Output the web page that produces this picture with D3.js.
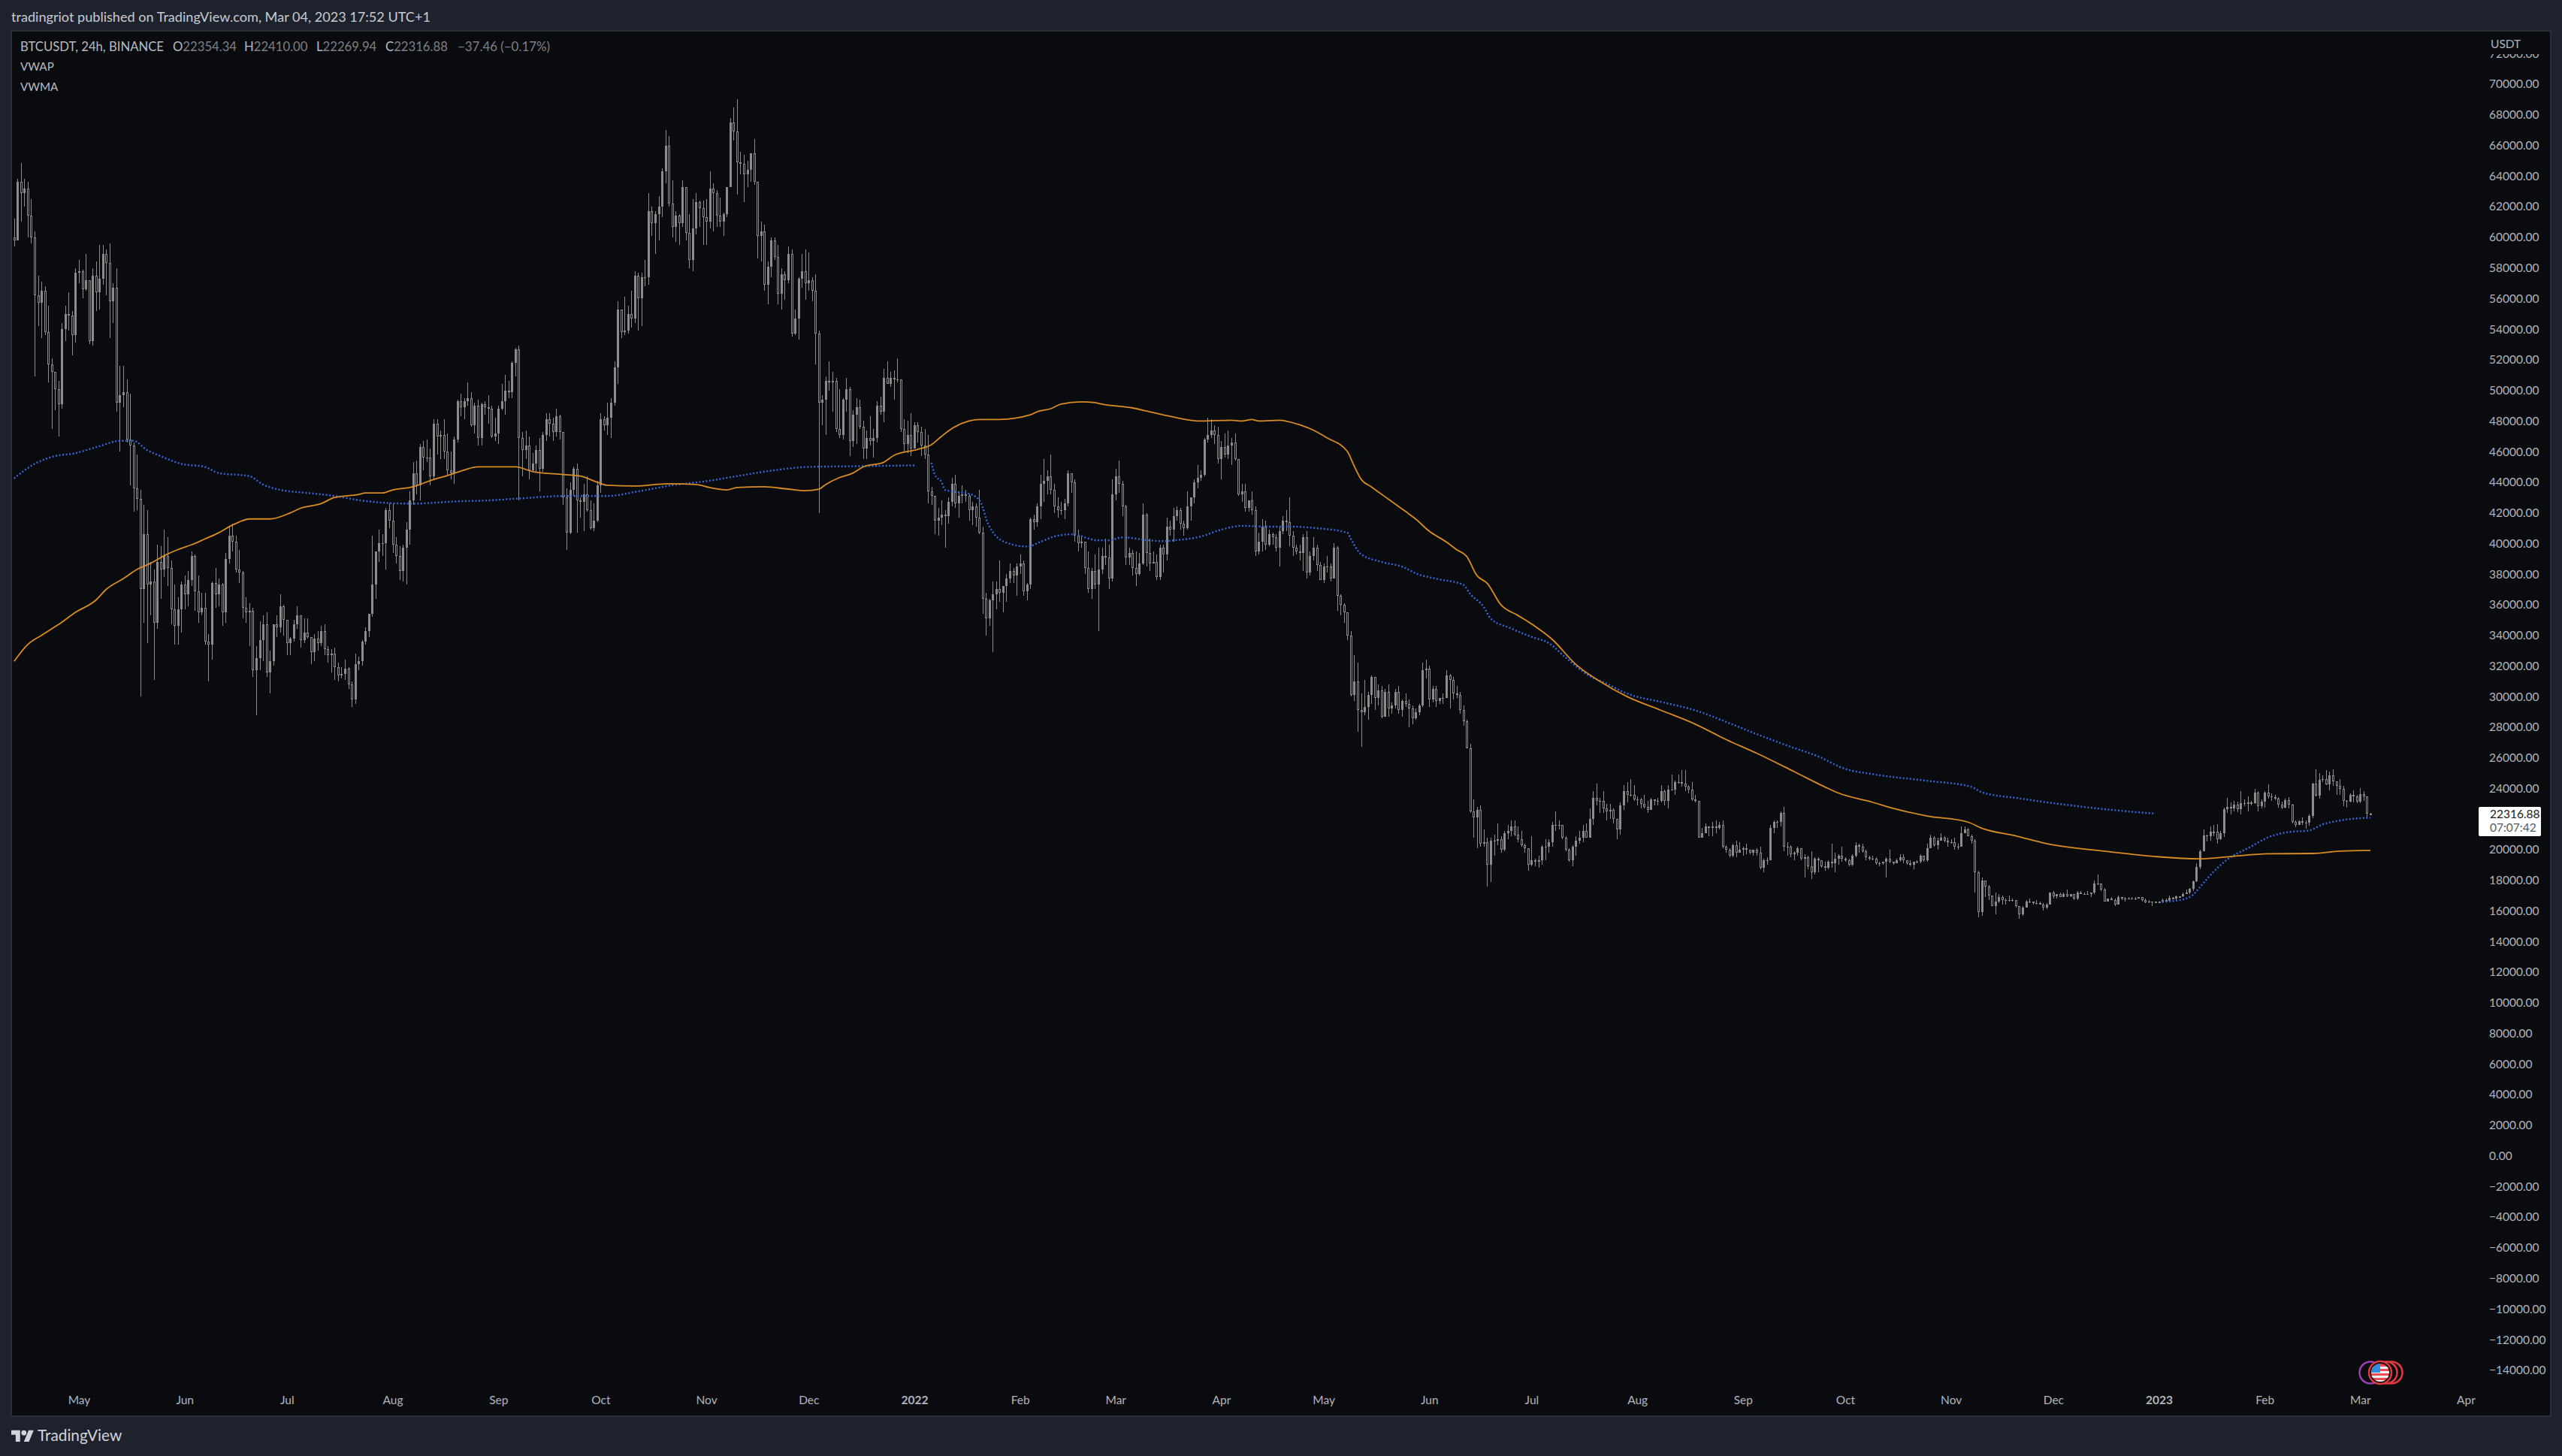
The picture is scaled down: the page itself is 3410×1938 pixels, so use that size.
<!DOCTYPE html>
<html><head><meta charset="utf-8">
<script src="https://cdn.jsdelivr.net/npm/d3@7"></script>
<style>html,body{margin:0;padding:0;background:#1e222d}svg{display:block}text{font-family:Lato,"Noto Sans",sans-serif}</style>
</head><body><svg id="c" width="3410" height="1938"></svg>
<script>
const startDate = "2021-04-12";
const firstOpen = 60.0;
// daily candles in thousands of USDT, grouped by month, Apr 12 2021 .. Mar 4 2023
const closes = [
59.8,63.6,62.9,63.2,61.4,60.0,56.2,55.7,56.5,53.8,51.7,51.2,50.1,49.1,54.0,55.0,54.9,53.6,57.7,
57.8,56.6,57.2,53.2,57.5,56.4,57.3,58.9,58.3,55.8,56.7,49.2,49.7,49.9,46.8,46.4,43.6,42.9,37.0,40.6,37.3,37.5,34.8,38.8,38.3,39.2,38.4,35.7,34.6,35.7,37.3,
36.7,37.6,39.2,36.9,35.5,35.8,33.6,33.4,37.4,36.7,37.3,35.5,39.0,40.5,40.1,38.3,38.1,35.8,35.5,35.6,31.7,32.5,33.7,34.7,31.6,32.3,34.7,34.5,35.9,35.0,
33.5,33.8,34.7,35.3,33.7,34.2,33.9,32.9,33.8,33.5,34.3,33.1,32.7,32.8,31.9,31.4,31.5,31.8,30.8,29.8,32.1,32.3,33.6,34.3,35.4,37.3,39.5,40.0,40.0,42.2,41.5,
39.9,39.2,38.2,39.7,40.9,42.8,44.6,43.8,46.3,45.6,45.6,44.4,47.8,47.0,47.1,46.0,44.8,44.6,46.8,49.3,48.9,49.3,49.5,47.7,49.0,46.9,49.1,48.9,48.8,47.0,47.2,
48.8,49.3,50.0,49.9,51.8,52.7,46.9,46.1,46.4,44.8,45.2,46.1,44.9,47.1,48.1,47.8,47.3,48.3,47.3,43.0,40.7,43.5,44.9,42.8,42.7,43.2,42.2,41.0,41.5,43.8,
48.1,47.7,48.2,49.2,51.5,55.3,53.8,53.9,55.0,54.7,57.5,56.0,57.4,57.4,61.7,60.9,61.5,62.0,64.3,66.0,62.2,60.7,61.4,60.9,63.3,60.3,58.5,60.6,62.3,61.9,61.3,
61.0,63.2,62.9,61.4,61.0,61.5,63.3,67.5,66.9,64.9,64.8,64.1,64.4,65.5,63.6,60.1,60.4,56.9,58.1,59.8,58.7,56.3,57.6,57.2,58.9,53.7,54.7,57.3,57.8,57.0,
57.2,56.5,53.7,49.2,49.4,50.6,50.5,50.6,47.5,47.1,49.4,50.1,46.7,48.4,48.9,47.6,46.2,46.9,46.7,46.9,49.0,48.6,50.8,50.4,50.8,50.7,50.7,47.5,46.5,47.1,46.2,
47.7,47.3,46.4,45.8,43.4,43.1,41.5,41.7,41.9,41.8,42.7,43.9,42.6,43.1,43.2,43.1,42.2,42.4,41.7,40.7,36.4,35.1,36.3,36.7,37.0,36.8,37.2,37.7,38.2,37.9,38.5,
38.7,36.9,37.3,41.6,41.4,42.4,43.9,44.1,44.4,43.5,42.4,42.2,42.2,42.6,44.6,44.0,40.5,40.0,40.1,38.4,37.0,38.2,37.3,38.3,39.2,39.1,37.7,43.2,
44.4,43.9,42.4,39.1,39.4,38.4,38.0,38.7,41.9,39.4,38.7,38.8,37.8,39.7,39.3,41.1,40.9,41.8,42.2,41.3,41.0,42.4,43.0,44.0,44.3,44.5,46.8,47.1,47.4,47.1,45.5,
46.3,45.8,46.4,46.6,45.5,43.2,43.4,42.3,42.8,42.2,39.5,40.1,41.1,39.9,40.6,40.4,39.7,40.8,41.5,41.4,40.5,39.7,39.5,39.4,40.4,38.1,39.2,39.7,38.6,37.6,
38.5,38.5,37.7,39.7,36.6,36.0,35.5,34.0,30.1,31.0,29.1,29.0,29.3,30.1,31.3,29.9,30.4,28.7,30.3,29.2,29.4,30.3,29.1,29.7,29.5,29.2,28.6,29.0,29.4,31.7,31.8,
29.8,30.5,29.7,29.9,29.9,31.4,31.1,30.2,30.1,29.1,28.4,26.6,22.5,22.1,22.6,20.4,20.5,19.0,20.6,20.6,20.7,20.0,21.1,21.2,21.5,21.0,20.7,20.3,20.1,19.0,
19.3,19.2,19.3,20.2,20.2,20.5,21.6,21.6,21.6,20.8,20.0,19.3,20.2,20.6,20.8,21.2,20.8,22.0,23.4,23.2,23.2,22.7,22.5,22.6,22.0,21.3,22.9,23.8,23.6,23.6,23.3,
23.3,23.0,22.8,22.6,23.3,23.2,23.2,23.8,23.2,23.9,23.9,24.4,24.4,24.3,24.1,23.9,23.3,23.2,20.8,21.1,21.5,21.4,21.5,21.4,21.6,20.2,20.0,19.6,20.3,19.8,20.0,
20.1,20.0,19.8,20.0,19.8,18.8,19.3,19.3,21.4,21.8,21.8,22.4,20.2,20.2,19.7,19.8,20.1,19.4,19.5,18.9,18.5,19.4,19.3,18.9,18.8,19.2,19.1,19.4,19.6,19.4,
19.3,19.0,19.6,20.3,20.2,19.9,19.5,19.4,19.4,19.1,19.1,19.2,19.4,19.2,19.1,19.3,19.5,19.3,19.1,19.0,19.2,19.2,19.6,19.3,20.1,20.8,20.3,20.6,20.8,20.6,20.5,
20.5,20.2,20.2,21.1,21.3,20.9,20.6,18.5,15.9,18.0,17.6,17.0,16.3,16.6,16.9,16.7,16.7,16.7,16.7,16.3,15.8,16.2,16.6,16.6,16.5,16.5,16.4,16.2,16.4,17.2,
16.97,17.1,16.9,17.1,16.97,17.1,16.8,17.2,17.1,17.1,17.1,17.2,17.8,17.8,17.4,16.6,16.8,16.7,16.4,16.9,16.8,16.8,16.8,16.8,16.8,16.9,16.7,16.55,16.6,16.6,16.5,
16.6,16.7,16.67,16.85,16.83,16.95,16.94,17.1,17.2,17.44,17.94,18.85,19.9,20.95,20.87,21.17,21.16,20.68,21.07,22.67,22.78,22.7,22.92,22.63,23.06,23.0,23.08,23.03,23.74,22.83,23.12,
23.73,23.49,23.43,23.33,22.93,22.76,23.25,22.96,21.8,21.63,21.86,21.78,21.77,22.2,24.33,23.52,24.57,24.63,24.28,24.84,24.45,24.19,23.95,23.19,23.16,23.56,23.49,23.14,
23.63,23.47,22.35,22.32];
const highs = [
61.2,63.8,64.85,63.8,63.6,62.5,60.4,57.5,57.1,56.8,55.5,52.1,51.2,50.6,54.4,55.5,56.4,55.2,58.0,
58.5,57.9,58.9,57.2,58.0,58.4,59.5,59.5,59.2,59.6,57.0,58.0,51.6,51.6,50.7,49.8,46.6,45.8,43.5,42.5,42.2,38.8,38.3,39.9,39.8,40.9,40.4,38.9,37.3,36.5,37.5,
37.9,38.2,39.5,39.3,37.9,36.8,36.8,34.1,37.5,38.4,37.7,37.4,39.4,41.1,41.3,40.5,39.6,38.2,36.5,36.1,35.8,33.3,34.9,35.3,35.5,33.0,34.7,35.3,36.7,36.0,
35.0,33.9,35.0,35.9,35.2,35.1,35.1,33.9,34.1,34.3,34.6,34.7,33.3,33.1,33.2,32.2,31.9,32.4,31.9,31.0,32.8,32.6,33.7,34.5,35.4,40.5,39.5,40.9,40.6,42.3,42.6,
42.6,40.4,39.8,39.9,41.4,43.4,45.3,45.4,46.5,46.7,46.8,46.2,48.1,48.1,47.4,48.1,47.2,46.0,47.0,49.4,49.8,49.5,50.5,49.9,49.2,49.4,49.2,49.3,49.7,49.0,48.2,
49.0,50.4,51.0,50.6,51.9,52.8,52.9,47.3,47.4,47.0,45.9,46.4,46.9,47.3,48.5,48.5,48.2,48.8,48.4,47.3,43.6,44.0,45.0,45.2,43.0,43.9,44.4,42.8,42.6,44.1,
48.5,48.3,49.2,49.5,51.9,55.8,55.3,56.1,55.5,56.5,57.8,57.7,57.7,58.5,62.9,62.0,61.7,62.7,64.5,67.0,66.6,63.7,61.7,61.5,63.7,63.3,61.5,62.5,62.9,62.4,62.4,
62.5,64.3,63.5,63.1,62.6,61.6,63.3,67.8,68.5,69.0,65.6,65.4,65.0,65.5,66.4,63.4,61.0,60.8,58.4,60.0,60.0,59.5,58.0,57.8,59.4,59.2,55.3,57.4,58.9,59.2,
59.0,57.4,57.6,53.9,49.7,50.9,51.9,51.2,50.8,50.1,49.5,50.8,50.2,48.7,49.5,49.4,48.0,47.4,48.3,47.5,49.3,49.6,51.4,51.9,51.2,51.3,52.1,50.7,48.1,48.0,48.5,
47.9,47.9,47.6,47.5,47.1,43.7,43.1,42.3,42.8,42.2,43.0,44.3,44.5,43.4,43.8,43.5,43.2,42.7,42.6,43.5,41.1,36.8,36.4,37.5,37.5,38.9,37.2,38.0,38.7,38.4,38.7,
39.3,38.9,37.4,41.7,41.9,42.6,44.5,45.5,44.8,45.8,43.9,43.0,42.7,42.9,44.8,44.6,44.2,40.9,40.5,40.1,39.5,38.4,39.3,39.7,39.7,40.3,39.9,44.2,
44.9,45.4,44.1,42.5,39.7,39.6,39.5,39.4,42.6,42.0,40.3,39.5,39.3,39.9,39.9,41.7,41.5,42.3,42.4,42.3,41.5,43.4,43.0,44.2,45.1,44.8,46.9,48.2,48.1,47.7,47.6,
46.7,47.2,47.4,46.9,47.2,45.5,43.9,43.9,42.8,43.4,42.4,40.7,41.6,41.5,40.9,40.7,40.6,41.1,41.8,42.2,43.0,40.8,39.9,39.9,40.6,40.8,39.5,40.4,39.9,38.8,
38.7,39.2,38.7,40.0,39.8,36.7,36.1,35.5,34.3,32.7,32.2,30.2,31.1,30.3,31.4,31.3,30.8,30.7,30.5,30.8,29.6,30.5,30.7,29.8,30.2,29.8,29.4,29.2,29.5,32.2,32.4,
32.0,30.7,30.7,29.9,30.2,31.7,31.5,31.3,30.7,30.3,29.4,28.5,26.9,23.3,22.8,22.9,21.3,20.8,20.8,21.0,21.7,20.9,21.2,21.6,21.9,21.9,21.5,21.2,20.4,20.1,
20.9,19.4,19.6,20.3,20.7,20.7,21.8,22.5,21.9,21.6,20.9,20.1,20.3,20.9,21.2,21.6,21.7,22.7,23.8,24.3,23.4,23.8,23.0,23.0,22.7,21.4,23.1,24.2,24.4,24.6,24.2,
23.5,23.4,23.6,23.2,23.4,23.3,23.4,24.2,23.9,24.2,24.9,24.5,24.9,25.2,25.2,24.2,24.4,23.6,23.2,21.4,21.7,21.5,21.8,21.9,21.8,21.9,20.3,20.1,20.4,20.6,20.5,
20.2,20.4,20.0,20.0,20.1,20.2,19.4,19.5,21.6,21.9,21.9,22.5,22.8,20.5,20.3,19.9,20.2,20.1,19.7,19.6,19.9,19.5,19.5,19.3,19.2,19.3,20.4,19.8,19.7,20.2,
19.5,19.4,19.7,20.5,20.4,20.4,20.0,19.6,19.6,19.5,19.2,19.2,19.5,20.0,19.2,19.4,19.7,19.7,19.3,19.3,19.2,19.3,19.7,19.6,20.4,21.0,20.9,20.8,21.1,20.9,20.8,
20.7,20.8,20.4,21.5,21.5,21.4,21.0,20.7,18.6,18.2,18.0,17.7,17.0,17.2,17.1,17.0,16.8,17.0,16.8,16.7,16.3,16.3,16.7,16.8,16.6,16.7,16.6,16.5,16.5,17.2,
17.3,17.1,17.2,17.2,17.4,17.1,17.1,17.3,17.3,17.2,17.3,17.2,18.0,18.4,17.8,17.5,16.8,16.9,16.8,17.0,16.9,16.9,16.9,16.9,16.9,16.9,16.9,16.8,16.7,16.6,16.6,
16.6,16.8,16.8,17.0,16.9,17.0,16.96,17.2,17.4,17.5,18.0,19.1,20.0,21.3,21.0,21.5,21.6,21.65,21.2,22.75,23.37,23.08,23.17,23.15,23.8,23.3,23.5,23.2,23.95,23.8,23.3,
23.8,24.25,23.7,23.6,23.43,23.15,23.35,23.45,23.0,21.9,21.9,22.1,21.9,22.3,24.38,25.25,25.02,24.85,25.2,25.12,25.25,24.47,24.6,24.15,23.22,23.69,23.88,23.6,
24.0,23.8,23.5,22.41];
const lows = [
59.4,59.8,61.0,62.0,60.0,59.6,50.9,54.2,53.4,53.6,50.5,47.5,48.7,47.0,48.8,53.2,53.9,52.3,53.1,
57.0,56.0,56.5,53.0,52.9,55.2,55.3,56.9,56.2,53.4,54.4,48.6,46.0,48.9,46.6,43.8,42.1,42.2,30.0,34.8,33.5,35.3,31.1,34.4,36.4,37.8,37.2,34.7,33.4,33.4,34.2,
35.7,35.9,37.2,35.6,34.8,35.3,33.4,31.0,32.4,35.8,35.9,34.6,34.8,38.7,39.5,38.1,37.4,35.1,34.8,33.3,31.3,28.8,31.7,32.3,31.3,30.2,32.0,33.9,34.2,34.0,
32.7,32.7,33.6,34.4,33.2,33.5,33.8,32.1,32.3,33.0,33.3,32.7,32.2,31.6,31.1,31.0,31.2,31.1,30.5,29.3,29.5,31.7,32.0,33.4,33.9,35.2,36.4,38.8,39.2,38.3,41.0,
39.4,38.7,37.6,37.5,37.3,39.9,42.5,43.2,42.8,44.8,45.3,43.8,44.2,45.8,45.5,45.5,44.4,44.2,43.9,46.6,48.3,48.1,49.0,47.6,47.2,46.4,46.4,48.4,47.8,46.9,46.7,
46.5,48.7,48.4,49.5,49.5,50.9,42.8,44.4,45.5,44.2,44.7,44.7,43.4,44.7,46.7,47.0,46.7,47.0,46.8,42.5,39.6,40.6,43.1,40.7,41.7,40.8,42.1,40.9,40.8,41.4,
43.3,47.4,47.1,46.9,49.0,50.4,53.4,53.6,53.7,54.1,54.4,53.9,54.2,56.8,56.9,60.1,58.9,59.8,61.3,63.5,62.0,60.0,59.7,59.5,60.7,59.8,58.0,57.8,60.2,60.7,59.5,
59.5,60.6,60.4,60.7,60.7,60.1,61.3,63.3,66.3,62.8,64.1,62.3,63.3,63.6,63.4,58.6,58.4,56.5,55.6,57.4,58.5,55.6,55.3,55.9,57.0,53.5,53.6,53.3,56.7,55.9,
56.5,55.8,51.7,42.0,47.7,47.1,50.0,48.6,47.3,46.9,46.8,48.6,45.7,46.3,46.5,47.5,45.5,45.5,46.4,45.6,46.6,48.4,47.9,50.4,50.2,49.4,50.5,47.3,46.0,45.9,45.7,
46.2,46.6,45.7,45.5,42.6,42.5,40.6,40.5,41.2,39.7,41.3,42.4,42.3,41.7,42.6,42.7,41.5,41.2,41.1,40.6,35.4,34.0,34.6,32.9,35.7,36.2,35.5,36.2,37.4,37.4,36.6,
38.0,36.6,36.3,37.0,40.9,41.1,41.6,42.7,43.2,43.2,42.0,41.7,41.9,41.6,42.4,43.3,40.1,39.5,39.7,38.0,36.8,36.4,37.0,34.3,38.0,38.6,37.0,37.5,
42.8,43.3,41.8,38.6,38.6,37.9,37.2,37.9,38.6,38.5,38.2,38.7,37.6,37.6,38.1,38.9,40.5,40.1,41.5,40.9,40.5,40.9,41.5,42.6,43.6,44.1,44.4,46.6,46.9,46.5,45.2,
44.2,45.6,45.5,45.1,45.4,43.1,42.7,42.1,42.1,41.9,39.2,39.3,39.5,39.6,39.8,39.9,39.5,38.5,40.6,40.8,39.8,39.2,39.3,38.9,38.2,37.7,37.9,38.9,38.2,37.6,
37.4,38.1,37.5,37.7,35.6,35.3,34.8,33.7,30.0,29.7,27.7,26.7,28.8,28.5,29.5,29.1,29.4,28.6,28.7,28.7,28.9,29.2,28.9,28.7,29.3,28.0,28.2,28.5,28.8,29.3,31.2,
29.3,29.6,29.3,29.5,29.5,29.9,29.2,29.8,29.9,28.9,28.1,26.6,22.4,20.8,20.1,20.2,20.2,17.6,17.9,19.6,20.3,19.8,19.9,20.7,20.9,20.9,20.5,20.2,19.8,18.6,
18.9,18.9,18.8,19.0,19.3,19.8,20.2,21.2,21.3,20.7,19.9,19.2,18.9,19.6,20.4,20.5,20.8,20.8,21.6,22.9,22.4,22.4,21.9,22.0,21.7,20.7,21.0,22.6,23.1,23.5,23.2,
22.9,22.7,22.7,22.4,22.6,22.9,22.9,23.1,22.9,22.7,23.9,23.6,24.3,24.1,23.8,23.7,23.2,23.1,20.8,20.8,21.1,20.9,20.9,21.1,21.3,20.1,19.8,19.5,19.5,19.5,19.9,
19.6,19.7,19.7,19.6,19.6,18.7,18.5,19.0,19.3,21.1,21.4,21.5,19.9,19.6,19.5,19.3,19.6,19.3,18.2,18.7,18.1,18.4,18.5,18.8,18.6,18.7,18.8,18.5,19.0,19.2,
19.2,18.9,18.9,19.5,19.8,19.8,19.3,19.3,19.3,19.0,18.9,19.0,18.2,19.1,19.0,19.1,19.2,19.1,19.0,18.9,18.7,19.1,19.1,19.2,19.2,20.1,20.2,20.0,20.6,20.5,20.2,
20.4,20.0,20.0,20.2,21.1,20.9,20.4,17.2,15.6,15.7,16.9,16.7,16.3,15.8,16.5,16.4,16.4,16.6,16.6,16.2,15.5,15.7,16.2,16.5,16.4,16.4,16.4,16.0,16.1,16.4,
16.8,16.8,16.9,16.9,16.9,16.9,16.7,16.7,17.1,17.1,17.1,16.9,17.1,17.7,17.3,16.6,16.6,16.7,16.3,16.4,16.7,16.6,16.8,16.8,16.7,16.8,16.6,16.5,16.5,16.3,16.5,
16.5,16.5,16.6,16.65,16.8,16.7,16.9,16.9,17.1,17.1,17.3,17.9,18.7,19.9,20.55,20.6,20.9,20.4,20.65,20.85,22.4,22.3,22.5,22.45,22.3,22.85,22.5,22.9,23.0,22.5,22.7,
22.75,23.35,23.2,23.25,22.75,22.63,22.7,22.68,21.7,21.45,21.6,21.6,21.35,21.55,22.05,23.5,23.34,24.43,24.2,23.85,24.15,23.58,23.6,22.85,22.72,23.08,23.1,23.03,
23.02,23.2,22.0,22.27];

// VWMA: bar index since startDate, value in thousands
const vwmaBars = [0,4,8,13,18,24,27,32,36,40,44,48,53,56,60,64,66,69,75,81,84,90,94,101,103,108,111,117,122,128,132,136,147,152,161,166,171,174,182,192,200,204,209,212,220,227,232,236,238,242,246,249,255,258,265,269,272,275,280,283,289,298,300,304,307,313,317,319,328,333,339,347,357,360,363,365,371,377,381,385,391,393,395,398,403,408,411,415,420,423,426,429,432,436,441,446,451,458,465,473,483,493,502,511,522,531,535,545,551,561,573,577,587,596,613,628,641,650,661,674,682,691];
const vwmaValues = [32.3,33.4,34.0,34.7,35.5,36.3,37.0,37.7,38.3,38.7,39.2,39.6,40.0,40.3,40.7,41.2,41.4,41.6,41.6,42.0,42.3,42.6,43.0,43.2,43.3,43.3,43.5,43.7,44.1,44.5,44.8,45.0,45.0,44.7,44.5,44.4,44.0,43.8,43.75,43.9,43.85,43.65,43.5,43.65,43.7,43.55,43.45,43.55,43.85,44.3,44.6,45.0,45.3,45.75,46.15,46.45,47.0,47.5,48.0,48.1,48.1,48.4,48.6,48.8,49.1,49.25,49.2,49.1,48.85,48.6,48.3,48.0,48.05,48.0,48.1,48.0,48.05,47.75,47.4,46.9,46.0,45.05,44.2,43.7,42.9,42.1,41.6,40.8,40.1,39.6,39.15,37.9,37.4,36.0,35.3,34.6,33.75,32.1,31.0,30.0,29.1,28.2,27.2,26.3,25.1,24.1,23.7,23.1,22.7,22.2,21.8,21.4,20.9,20.4,19.9,19.55,19.4,19.55,19.73,19.75,19.9,19.95];
// VWAP: null marks a break in the line
const vwapBars = [0,6,11,18,25,31,35,39,43,49,56,60,69,73,78,86,94,102,109,117,130,138,149,161,174,183,193,204,212,222,233,249,264,264,269,270,272,273,275,279,282,284,285,287,290,297,301,305,310,318,321,325,333,337,340,348,354,360,367,374,382,391,392,395,401,408,411,417,425,427,431,433,439,445,450,455,462,466,473,484,493,502,511,520,530,536,546,561,574,577,588,601,615,628,628,630,635,639,641,645,649,656,661,667,673,677,682,691];
const vwapValues = [44.25,45.2,45.65,45.9,46.35,46.7,46.7,46.1,45.7,45.2,45.0,44.6,44.4,43.85,43.5,43.3,43.1,42.8,42.65,42.6,42.75,42.8,42.95,43.1,43.1,43.4,43.8,44.1,44.4,44.75,45.0,45.05,45.1,null,45.28,44.5,44.0,43.5,43.4,43.3,43.05,42.4,41.65,40.75,40.15,39.8,40.1,40.45,40.6,40.2,40.2,40.4,40.2,40.15,40.2,40.45,40.9,41.15,41.1,41.1,41.0,40.7,40.3,39.3,38.8,38.4,38.05,37.7,37.3,36.7,35.85,35.1,34.45,33.9,33.5,32.55,31.35,30.95,30.2,29.6,29.1,28.35,27.55,26.8,26.0,25.35,24.9,24.5,24.1,23.75,23.35,22.95,22.6,22.35,null,16.6,16.7,17.05,17.55,18.55,19.35,20.2,20.8,21.15,21.25,21.65,21.9,22.1];

const priceTicks = d3.range(-14000, 72001, 2000);
const monthTicks = ["2021-05-01","2021-06-01","2021-07-01","2021-08-01","2021-09-01","2021-10-01","2021-11-01","2021-12-01","2022-01-01","2022-02-01","2022-03-01","2022-04-01","2022-05-01","2022-06-01","2022-07-01","2022-08-01","2022-09-01","2022-10-01","2022-11-01","2022-12-01","2023-01-01","2023-02-01","2023-03-01","2023-04-01"];
const monthLabels = ["May","Jun","Jul","Aug","Sep","Oct","Nov","Dec","2022","Feb","Mar","Apr","May","Jun","Jul","Aug","Sep","Oct","Nov","Dec","2023","Feb","Mar","Apr"];

const titleText = "tradingriot published on TradingView.com, Mar 04, 2023 17:52 UTC+1";
const DAY = 86400000, t0 = Date.parse(startDate+"T00:00:00Z");
const dateOf = i => new Date(t0 + i*DAY);

const svg = d3.select("#c");
const P = {l:15, t:41, r:3395, b:1885};
const BG = "#090b0e", BORDER = "#2a2e39", PAGE = "#1e222d", TXT = "#b2b5be", DIM = "#7d8088", GRAY = "#8b8c8e";

const x = d3.scaleUtc().domain([new Date("2021-05-01T00:00:00Z"), new Date("2023-04-01T00:00:00Z")]).range([105, 3282]);
const y = d3.scaleLinear().domain([0, 70]).range([1538.5, 112]);

svg.append("rect").attr("width",3410).attr("height",1938).attr("fill",PAGE);
svg.append("rect").attr("x",P.l).attr("y",P.t).attr("width",P.r-P.l).attr("height",P.b-P.t).attr("fill",BG).attr("stroke",BORDER).attr("stroke-width",2);

const defs = svg.append("defs");
defs.append("clipPath").attr("id","plot").append("rect").attr("x",P.l+1).attr("y",P.t+1).attr("width",P.r-P.l-2).attr("height",P.b-P.t-2);
defs.append("clipPath").attr("id","axisclip").append("rect").attr("x",3300).attr("y",72).attr("width",94).attr("height",1800);
defs.append("clipPath").attr("id","flag").append("circle").attr("cx",3168).attr("cy",1827).attr("r",12);

const bars = closes.map((c,i)=>({i, o:i?closes[i-1]:firstOpen, c, h:highs[i], l:lows[i]}));
const plot = svg.append("g").attr("clip-path","url(#plot)");

const px = d => Math.round(x(dateOf(d.i)));
const cg = plot.append("g").attr("shape-rendering","crispEdges");
cg.selectAll("line.w").data(bars).join("line").attr("class","w")
  .attr("x1",d=>px(d)+0.5).attr("x2",d=>px(d)+0.5)
  .attr("y1",d=>y(Math.max(d.h,d.o,d.c))).attr("y2",d=>y(Math.min(d.l,d.o,d.c)))
  .attr("stroke",GRAY).attr("stroke-width",1);
cg.selectAll("rect.u").data(bars.filter(d=>d.c>=d.o)).join("rect").attr("class","u")
  .attr("x",d=>px(d)-1).attr("width",3)
  .attr("y",d=>y(d.c)).attr("height",d=>Math.max(1,y(d.o)-y(d.c))).attr("fill",GRAY);
cg.selectAll("rect.d").data(bars.filter(d=>d.c<d.o)).join("rect").attr("class","d")
  .attr("x",d=>px(d)-0.5).attr("width",2)
  .attr("y",d=>y(d.o)+0.5).attr("height",d=>Math.max(0.5,y(d.c)-y(d.o)-1))
  .attr("fill",BG).attr("stroke",GRAY).attr("stroke-width",1);

const lineOf = (bs, vs) => d3.line().defined(d=>d[1]!==null).curve(d3.curveMonotoneX).x(d=>x(dateOf(d[0]))).y(d=>y(d[1]))(bs.map((b,k)=>[b,vs[k]]));
plot.append("path").attr("d",lineOf(vwapBars,vwapValues)).attr("fill","none").attr("stroke","#3a6be4").attr("stroke-width",2.4).attr("stroke-dasharray","1.9 2.64");
plot.append("path").attr("d",lineOf(vwmaBars,vwmaValues)).attr("fill","none").attr("stroke","#d98c22").attr("stroke-width",1.8).attr("stroke-linejoin","round");

// axes
const ay = d3.axisRight(y).tickValues(priceTicks.map(v=>v/1000)).tickSize(0).tickPadding(0).tickFormat(v=>d3.format(".2f")(v*1000));
const gy = svg.append("g").attr("clip-path","url(#axisclip)").append("g").attr("transform","translate(3313,0)").call(ay);
gy.select(".domain").remove();
gy.selectAll("text").attr("fill",TXT).attr("font-size",15.5).attr("font-family","Lato,'Noto Sans',sans-serif");

const ax = d3.axisBottom(x).tickValues(monthTicks.map(s=>new Date(s+"T00:00:00Z"))).tickSize(0).tickPadding(0).tickFormat((d,i)=>monthLabels[i]);
const gx = svg.append("g").attr("transform","translate(0,1865)").call(ax);
gx.select(".domain").remove();
gx.selectAll("text").attr("dy",0).attr("dominant-baseline","middle").attr("y",0).attr("fill",TXT).attr("font-size",15.5)
  .attr("font-family","Lato,'Noto Sans',sans-serif").attr("font-weight",(d,i)=>/^20/.test(monthLabels[i])?700:400);

const T = (s,xx,yy,o={}) => svg.append("text").text(s).attr("x",xx).attr("y",yy).attr("dominant-baseline","middle")
  .attr("fill",o.fill||TXT).attr("font-size",o.size||15.5).attr("font-weight",o.w||400);

T(titleText,15,24,{fill:"#c8cad0",size:18.1});
T("BTCUSDT, 24h, BINANCE",27,64,{size:16.7,fill:"#b8bac0"});
[["O","22354.34",230],["H","22410.00",325],["L","22269.94",421],["C","22316.88",513]].forEach(([a,b,xx])=>{
  const t=T(a,xx,64,{size:16.7,fill:"#b8bac0"});
  t.append("tspan").text(b).attr("fill",DIM);
});
T("\u221237.46 (\u22120.17%)",609,64,{size:16.9,fill:DIM});
T("VWAP",27,90,{size:15.2,fill:"#b8bac0"});
T("VWMA",27,117,{size:15.2,fill:"#b8bac0"});
T("USDT",3315,60,{size:15.5});

// last price tag
svg.append("rect").attr("x",3299).attr("y",1074).attr("width",83).attr("height",39).attr("rx",2).attr("fill","#ffffff");
T("22316.88",3314,1085,{fill:"#1a1a1a",size:15.5});
T("07:07:42",3314,1103,{fill:"#55585f",size:15.5});

// event markers
const ev = svg.append("g");
[[3183,"#e03a40"],[3176,"#e03a40"]].forEach(([cx,c])=>ev.append("circle").attr("cx",cx).attr("cy",1827).attr("r",14.5).attr("fill",BG).attr("stroke",c).attr("stroke-width",2.5));
ev.append("circle").attr("cx",3155).attr("cy",1827).attr("r",14.5).attr("fill",BG).attr("stroke","#9a3fb0").attr("stroke-width",2.5);
ev.append("circle").attr("cx",3168).attr("cy",1827).attr("r",15).attr("fill",BG).attr("stroke","#e03a40").attr("stroke-width",2.5);
const fl = ev.append("g").attr("clip-path","url(#flag)");
fl.append("rect").attr("x",3155).attr("y",1814).attr("width",26).attr("height",26).attr("fill","#ef4c50");
[1819,1825,1831,1837].forEach(yy=>fl.append("rect").attr("x",3155).attr("y",yy).attr("width",26).attr("height",3).attr("fill","#f4f4f4"));
fl.append("rect").attr("x",3155).attr("y",1814).attr("width",13).attr("height",13).attr("fill","#2f8be0");

// footer logo
const lg = svg.append("g").attr("transform","translate(15,1900.5) scale(0.84)").attr("fill","#d1d4dc");
lg.append("path").attr("d","M14 22H7V11H0V4h14v18zM28 22h-8l7.5-18h8L28 22z");
lg.append("circle").attr("cx",20).attr("cy",8).attr("r",4);
T("TradingView",50,1913,{size:20.8,fill:"#d1d4dc"});
</script></body></html>
